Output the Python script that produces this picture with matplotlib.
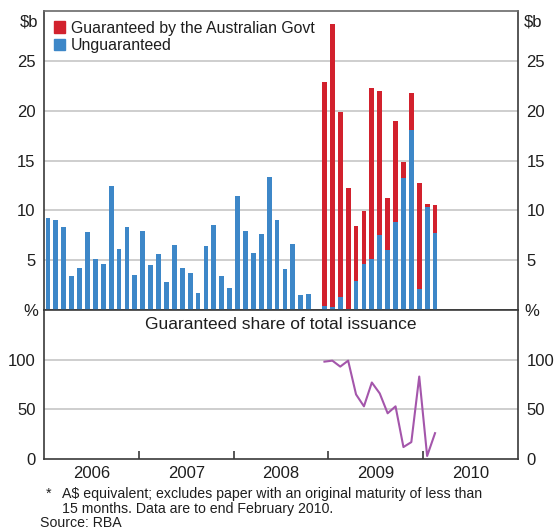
import matplotlib.pyplot as plt
from matplotlib.patches import Patch

plt.rcParams['font.family'] = ['Liberation Sans', 'DejaVu Sans']

# monthly data, Jan 2006 - Feb 2010 ($b)
months = [f"{y}-{m:02d}" for y in range(2006, 2011) for m in range(1, 13)][:50]
unguaranteed = [9.2, 9.0, 8.3, 3.4, 4.2, 7.8, 5.1, 4.6, 12.4, 6.1, 8.3, 3.5,
                7.9, 4.5, 5.6, 2.8, 6.5, 4.2, 3.7, 1.7, 6.4, 8.5, 3.4, 2.2,
                11.4, 7.9, 5.7, 7.6, 13.3, 9.0, 4.1, 6.6, 1.5, 1.6, 0.0, 0.4,
                0.3, 1.3, 0.1, 2.9, 4.6, 5.1, 7.5, 6.0, 8.8, 13.2, 18.1, 2.1,
                10.3, 7.7]
guaranteed = [0.0] * 35 + [22.5, 28.4, 18.6, 12.1, 5.5, 5.3, 17.2, 14.5, 5.2,
                           10.2, 1.7, 3.7, 10.6, 0.3, 2.8]
# guaranteed share of total issuance (%), Dec 2008 - Feb 2010
share_months = months[35:]
share = [98, 99, 93, 99, 65, 53, 77, 66, 46, 53, 12, 17, 83, 3, 26]
years = ['2006', '2007', '2008', '2009', '2010']

red = '#d2212d'
blue = '#3d87c8'
purple = '#a456ab'
grid = '#c6c6c6'
dark = '#3a3a3a'
txt = '#1e1e1e'

fig = plt.figure(figsize=(5.55, 5.30), dpi=100)
ax1 = fig.add_axes([0.0793, 0.4151, 0.854, 0.5641])
ax2 = fig.add_axes([0.0793, 0.1340, 0.854, 0.2811])

x = list(range(len(months)))
xs = [months.index(m) for m in share_months]

ax1.bar(x, unguaranteed, width=0.6, color=blue, zorder=3)
ax1.bar(x, guaranteed, width=0.6, bottom=unguaranteed, color=red, zorder=3)
ax2.plot(xs, share, color=purple, lw=1.5, zorder=3)

for ax in (ax1, ax2):
    ax.set_xlim(-0.5, 59.5)
    for s in ax.spines.values():
        s.set_color(dark)
        s.set_linewidth(1.2)
    ax.tick_params(axis='y', length=0, labelsize=12, colors=txt, pad=6,
                   labelleft=True, labelright=True)

ax1.set_ylim(0, 30)
ax1.set_yticks([0, 5, 10, 15, 20, 25])
ax1.set_yticklabels(['', '5', '10', '15', '20', '25'])
ax1.set_xticks([])
ax1.spines['top'].set_color('#6a6a6a')
for v in [5, 10, 15, 20, 25]:
    ax1.axhline(v, color=grid, lw=1.2, zorder=1)

ax2.set_ylim(0, 150)
ax2.set_yticks([0, 50, 100])
ax2.set_yticklabels(['0', '50', '100'])
for v in [50, 100]:
    ax2.axhline(v, color=grid, lw=1.2, zorder=1)
ax2.set_xticks([11.5, 23.5, 35.5, 47.5])
ax2.set_xticklabels([])
ax2.tick_params(axis='x', direction='in', length=6, color=dark, width=1.2)
ax2.set_xticks([5.5 + 12 * i for i in range(5)], minor=True)
ax2.set_xticklabels(years, minor=True)
ax2.tick_params(axis='x', which='minor', length=0, labelsize=12, colors=txt, pad=5)

# unit labels
for xp, ha in [(-0.013, 'right'), (1.013, 'left')]:
    ax1.text(xp, 0.964, '$b', transform=ax1.transAxes, ha=ha, va='center',
             fontsize=12, color=txt)
    ax2.text(xp, 0.99, '%', transform=ax2.transAxes, ha=ha, va='center',
             fontsize=12, color=txt)

ax2.text(0.5, 0.905, 'Guaranteed share of total issuance', transform=ax2.transAxes,
         ha='center', va='center', fontsize=12.5, color=txt)

handles = [Patch(color=red), Patch(color=blue)]
ax1.legend(handles, ['Guaranteed by the Australian Govt', 'Unguaranteed'],
           loc='upper left', bbox_to_anchor=(0.0, 1.0), frameon=False,
           fontsize=11.4, handlelength=0.72, handleheight=0.72,
           handletextpad=0.4, labelspacing=0.15, borderpad=0.4,
           borderaxespad=0.2, labelcolor=txt)

# title, mostly cut off at the top edge
fig.text(0.51, 1 + 1.5 / 530, "Australian Banks' Bond Issuance*", ha='center',
         va='baseline', fontsize=13, fontweight='bold', color='#555555')

fig.text(46 / 555, 1 - 494 / 530, '*', ha='left', va='center', fontsize=10.2, color=txt)
fig.text(62 / 555, 1 - 494 / 530,
         'A$ equivalent; excludes paper with an original maturity of less than',
         ha='left', va='center', fontsize=10.2, color=txt)
fig.text(62 / 555, 1 - 509 / 530, '15 months. Data are to end February 2010.',
         ha='left', va='center', fontsize=10.2, color=txt)
fig.text(40 / 555, 1 - 523 / 530, 'Source: RBA', ha='left', va='center',
         fontsize=10.2, color=txt)

fig.savefig('out.png', dpi=100)
